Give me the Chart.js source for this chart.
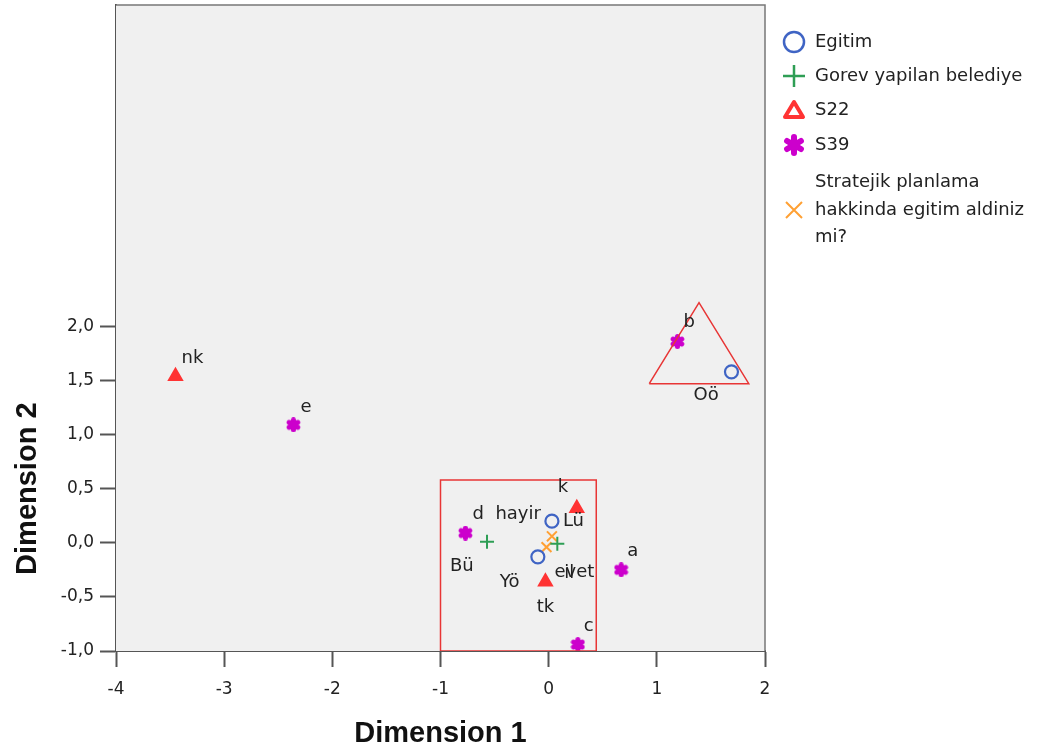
<!DOCTYPE html>
<html>
<head>
<meta charset="utf-8">
<script src="https://cdn.jsdelivr.net/npm/chart.js@4"></script>
<style>
  html, body { margin: 0; padding: 0; background: #fff; }
  #plot { display: block; }
</style>
</head>
<body>
<canvas id="plot" width="1043" height="751"></canvas>
<script>
// ---- data ----
const egitimLabels = ['Oö', 'Lü', 'Yö'];
const egitimX = [1.69, 0.03, -0.10];
const egitimY = [1.58, 0.20, -0.13];

const gorevLabels = ['Bü', 'il'];
const gorevX = [-0.57, 0.08];
const gorevY = [0.01, -0.01];

const s22Labels = ['nk', 'k', 'tk'];
const s22X = [-3.45, 0.26, -0.03];
const s22Y = [1.54, 0.32, -0.36];

const s39Labels = ['b', 'e', 'd', 'a', 'c'];
const s39X = [1.19, -2.36, -0.77, 0.67, 0.27];
const s39Y = [1.86, 1.09, 0.09, -0.25, -0.94];

const stratLabels = ['hayir', 'evet'];
const stratX = [0.03, -0.02];
const stratY = [0.06, -0.04];

// drawn outlines (rectangle + triangle)
const boxX = [-1, 0.44, 0.44, -1, -1];
const boxY = [-1, -1, 0.58, 0.58, -1];
const triX = [0.93, 1.39, 1.85, 0.93];
const triY = [1.47, 2.22, 1.47, 1.47];

const xTicks = [-4, -3, -2, -1, 0, 1, 2];
const yTicks = [-1, -0.5, 0, 0.5, 1, 1.5, 2];

const legendNames = ['Egitim', 'Gorev yapilan belediye', 'S22', 'S39',
    ['Stratejik planlama', 'hakkinda egitim aldiniz', 'mi?']];

// ---- helpers ----
const zip = (xs, ys) => xs.map((x, i) => ({ x: x, y: ys[i] }));
const FONT = "'DejaVu Sans', sans-serif";
const BOLD = "'Liberation Sans', Arial, sans-serif";

const BLUE = '#3f64c4', GREEN = '#2e9e55', RED = '#ff3333', PURPLE = '#cc00cc', ORANGE = '#ffa033';

function makeStar(size, color, lw) {
    const c = document.createElement('canvas');
    c.width = c.height = size;
    const g = c.getContext('2d');
    g.strokeStyle = color;
    g.lineWidth = lw;
    g.lineCap = 'round';
    const r = size / 2 - lw / 2;
    for (let k = 0; k < 3; k++) {
        const a = Math.PI / 2 + k * Math.PI / 3;
        g.beginPath();
        g.moveTo(size / 2 + r * Math.cos(a), size / 2 + r * Math.sin(a));
        g.lineTo(size / 2 - r * Math.cos(a), size / 2 - r * Math.sin(a));
        g.stroke();
    }
    g.fillStyle = color;
    g.beginPath(); g.arc(size / 2, size / 2, size * 0.28, 0, Math.PI * 2); g.fill();
    return c;
}
const starSmall = makeStar(15, PURPLE, 5);
const starBig = makeStar(22, PURPLE, 6);

// label placement around each point (dx, dy in px, align)
const labelPos = {
    'nk': [6, -18, 'left'], 'e': [7, -18, 'left'], 'b': [6, -19, 'left'],
    'Oö': [-38, 24, 'left'], 'k': [-19, -21, 'left'], 'Lü': [11, 0, 'left'],
    'd': [7, -19, 'left'], 'hayir': [-11, -22, 'right'], 'Bü': [-37, 25, 'left'],
    'Yö': [-38, 25, 'left'], 'evet': [8, 25, 'left'], 'il': [7, 29, 'left'],
    'tk': [0, 26, 'center'], 'a': [6, -19, 'left'], 'c': [6, -18, 'left']
};

const plotFrame = {
    id: 'plotFrame',
    beforeDatasetsDraw(chart) {
        const { ctx, chartArea: a } = chart;
        ctx.save();
        ctx.fillStyle = '#f0f0f0';
        ctx.fillRect(a.left, a.top, a.right - a.left, a.bottom - a.top);
        ctx.strokeStyle = '#777';
        ctx.lineWidth = 1.5;
        ctx.beginPath();
        ctx.moveTo(a.left, a.top);
        ctx.lineTo(a.right, a.top);
        ctx.lineTo(a.right, a.bottom);
        ctx.stroke();
        ctx.restore();
    }
};

const pointLabels = {
    id: 'pointLabels',
    afterDatasetsDraw(chart) {
        const ctx = chart.ctx;
        ctx.save();
        ctx.font = '18px ' + FONT;
        ctx.fillStyle = '#222';
        ctx.textBaseline = 'middle';
        chart.data.datasets.forEach((ds, di) => {
            if (!ds.names) return;
            const meta = chart.getDatasetMeta(di);
            meta.data.forEach((pt, i) => {
                const name = ds.names[i];
                const p = labelPos[name] || [6, -18, 'left'];
                ctx.textAlign = p[2];
                ctx.fillText(name, pt.x + p[0], pt.y + p[1]);
            });
        });
        ctx.restore();
    }
};

const sideParts = {
    id: 'sideParts',
    afterDraw(chart) {
        const ctx = chart.ctx;
        const ys = chart.scales.y;
        ctx.save();
        // y axis title
        ctx.font = 'bold 29px ' + BOLD;
        ctx.fillStyle = '#111';
        ctx.textAlign = 'center';
        ctx.textBaseline = 'middle';
        const cy = (ys.getPixelForValue(yTicks[0]) + ys.getPixelForValue(yTicks[yTicks.length - 1])) / 2;
        ctx.translate(28, cy);
        ctx.rotate(-Math.PI / 2);
        ctx.fillText('Dimension 2', 0, 0);
        ctx.restore();

        // legend
        ctx.save();
        const mx = 794, tx = 815;
        const rows = [42, 76, 110, 145, 210];
        ctx.lineCap = 'butt';
        // circle
        ctx.strokeStyle = BLUE; ctx.lineWidth = 2.5;
        ctx.beginPath(); ctx.arc(mx, rows[0], 10, 0, Math.PI * 2); ctx.stroke();
        // plus
        ctx.strokeStyle = GREEN; ctx.lineWidth = 2.5;
        ctx.beginPath();
        ctx.moveTo(mx - 11, rows[1]); ctx.lineTo(mx + 11, rows[1]);
        ctx.moveTo(mx, rows[1] - 11); ctx.lineTo(mx, rows[1] + 11);
        ctx.stroke();
        // triangle
        ctx.strokeStyle = RED; ctx.lineWidth = 4; ctx.lineJoin = 'round';
        ctx.beginPath();
        ctx.moveTo(mx, rows[2] - 8); ctx.lineTo(mx + 9, rows[2] + 7); ctx.lineTo(mx - 9, rows[2] + 7);
        ctx.closePath(); ctx.stroke();
        // star
        ctx.drawImage(starBig, mx - 11, rows[3] - 11);
        // x
        ctx.strokeStyle = ORANGE; ctx.lineWidth = 2;
        ctx.beginPath();
        ctx.moveTo(mx - 8, rows[4] - 8); ctx.lineTo(mx + 8, rows[4] + 8);
        ctx.moveTo(mx + 8, rows[4] - 8); ctx.lineTo(mx - 8, rows[4] + 8);
        ctx.stroke();

        ctx.font = '18px ' + FONT;
        ctx.fillStyle = '#222';
        ctx.textAlign = 'left';
        ctx.textBaseline = 'middle';
        legendNames.forEach((n, i) => {
            if (Array.isArray(n)) {
                n.forEach((line, j) => ctx.fillText(line, tx, rows[i] + (j - (n.length - 1) / 2) * 27.5));
            } else {
                ctx.fillText(n, tx, rows[i]);
            }
        });
        ctx.restore();
    }
};

const outline = (xs, ys) => ({
    type: 'line',
    data: zip(xs, ys),
    borderColor: '#e83535',
    borderWidth: 1.5,
    pointRadius: 0,
    fill: false,
    tension: 0,
    showLine: true
});

new Chart(document.getElementById('plot'), {
    type: 'scatter',
    data: {
        datasets: [
            outline(boxX, boxY),
            outline(triX, triY),
            {
                label: 'Egitim', names: egitimLabels, data: zip(egitimX, egitimY),
                pointStyle: 'circle', pointRadius: 6.5, borderColor: BLUE, backgroundColor: 'rgba(0,0,0,0)', borderWidth: 2.2
            },
            {
                label: 'Gorev yapilan belediye', names: gorevLabels, data: zip(gorevX, gorevY),
                pointStyle: 'cross', pointRadius: 7, borderColor: GREEN, borderWidth: 2
            },
            {
                label: 'S22', names: s22Labels, data: zip(s22X, s22Y),
                pointStyle: 'triangle', pointRadius: 6.5, borderColor: RED, backgroundColor: RED, borderWidth: 3
            },
            {
                label: 'S39', names: s39Labels, data: zip(s39X, s39Y),
                pointStyle: starSmall, pointRadius: 7
            },
            {
                label: 'Stratejik planlama hakkinda egitim aldiniz mi?', names: stratLabels, data: zip(stratX, stratY),
                pointStyle: 'crossRot', pointRadius: 7, borderColor: ORANGE, borderWidth: 2
            }
        ]
    },
    options: {
        responsive: false,
        animation: false,
        devicePixelRatio: 1,
        layout: { autoPadding: false, padding: { left: 0, top: 5, right: 278, bottom: 0 } },
        plugins: { legend: { display: false }, tooltip: { enabled: false } },
        scales: {
            x: {
                type: 'linear', min: -4, max: 2,
                afterBuildTicks: s => { s.ticks = xTicks.map(v => ({ value: v })); },
                afterFit: s => { s.height = 100; s.paddingLeft = 0; s.paddingRight = 0; },
                ticks: { color: '#222', font: { family: FONT, size: 17 }, padding: 12,
                    callback: v => String(v) },
                grid: { drawOnChartArea: false, tickLength: 16, tickWidth: 2, tickColor: '#555' },
                border: { color: '#555', width: 2 },
                title: { display: true, text: 'Dimension 1', color: '#111',
                    font: { family: BOLD, size: 29, weight: 'bold' }, padding: { top: 0, bottom: 0 } }
            },
            y: {
                type: 'linear', min: -1, max: 4.97,
                afterBuildTicks: s => { s.ticks = yTicks.map(v => ({ value: v })); },
                afterFit: s => { s.width = 116; s.paddingTop = 0; s.paddingBottom = 0; },
                ticks: { color: '#222', font: { family: FONT, size: 17 }, padding: 6,
                    callback: v => v.toFixed(1).replace('.', ',') },
                grid: { drawOnChartArea: false, tickLength: 16, tickWidth: 2, tickColor: '#555' },
                border: { color: '#555', width: 2 }
            }
        }
    },
    plugins: [plotFrame, pointLabels, sideParts]
});
</script>
</body>
</html>
